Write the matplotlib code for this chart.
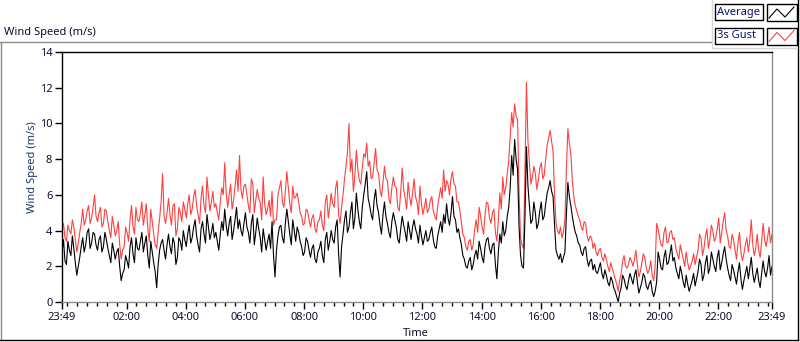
import matplotlib
matplotlib.use('Agg')
import matplotlib.pyplot as plt
from matplotlib.lines import Line2D
from matplotlib.patches import Rectangle
import numpy as np

# 3-minute samples starting 23:49 (m/s), one row = 2 hours
avg_speed = [
    2.8, 3.5, 2.3, 2.1, 3.4, 2.9, 2.6, 3.7, 3.0, 2.2, 1.5, 2.0, 2.5, 3.1, 3.6, 2.8, 3.2, 3.9, 4.1, 3.0,
    3.3, 3.9, 3.8, 3.2, 2.9, 3.5, 3.7, 2.8, 3.1, 3.9, 3.5, 3.0, 2.6, 2.2, 3.3, 2.9, 2.4, 2.8, 3.0, 2.0,
    1.2, 1.6, 1.8, 2.6, 2.3, 1.9, 3.1, 3.6, 2.7, 2.2, 3.6, 3.0, 2.9, 3.4, 3.9, 2.8, 3.3, 3.7, 2.6, 1.9,
    3.4, 2.8, 2.2, 1.7, 0.8, 2.1, 2.9, 3.3, 3.5, 2.9, 2.4, 3.2, 3.8, 3.1, 2.7, 3.6, 3.3, 2.1, 2.5, 3.6,
    3.4, 2.9, 4.0, 3.5, 3.1, 3.8, 4.3, 3.3, 3.6, 4.2, 4.6, 3.7, 3.2, 2.8, 4.1, 4.5, 3.8, 3.3, 4.9, 4.2,
    3.5, 3.9, 4.4, 3.6, 3.9, 3.4, 2.9, 3.8, 4.5, 4.0, 5.2, 4.3, 3.7, 4.4, 4.8, 3.5, 4.0, 4.6, 5.3, 4.1,
    4.6, 4.0, 3.7, 4.4, 5.0, 4.2, 3.9, 3.3, 4.4, 4.9, 3.2, 3.9, 4.7, 4.1, 3.6, 2.8, 4.1, 3.5, 2.9, 3.4,
    3.8, 3.0, 4.5, 2.6, 1.4, 2.9, 3.7, 4.2, 4.3, 3.6, 3.3, 4.4, 5.2, 4.5, 3.8, 3.2, 4.6, 4.0, 3.4, 4.2,
    3.9, 3.4, 3.1, 2.6, 2.8, 3.6, 3.4, 2.9, 2.5, 3.0, 3.2, 2.4, 2.2, 2.8, 3.0, 3.4, 2.6, 2.2, 3.5, 3.9,
    2.9, 3.4, 4.0, 3.5, 3.3, 4.2, 4.6, 2.7, 1.4, 3.1, 3.8, 4.6, 5.1, 3.9, 4.2, 5.0, 5.6, 4.1, 4.7, 6.1,
    5.2, 4.5, 4.1, 5.3, 6.0, 6.6, 7.3, 5.8, 5.4, 4.9, 4.6, 5.7, 6.3, 5.4, 5.0, 4.3, 3.8, 4.9, 5.6, 4.8,
    4.4, 3.9, 3.6, 4.5, 5.0, 4.6, 4.2, 3.5, 3.3, 4.1, 4.8, 4.3, 3.9, 3.4, 4.5, 4.0, 3.5, 4.2, 4.6, 4.1,
    3.8, 3.3, 4.3, 3.7, 3.2, 3.6, 4.0, 3.4, 3.5, 3.9, 4.2, 3.5, 3.1, 3.0, 3.7, 4.1, 4.5, 3.9, 4.9, 4.4,
    5.5, 4.7, 4.3, 5.0, 5.9, 4.8, 4.6, 3.9, 4.1, 3.6, 3.2, 2.6, 2.4, 2.0, 1.9, 2.3, 2.5, 1.8, 2.1, 2.6,
    2.9, 2.4, 3.4, 3.0, 2.5, 2.2, 3.1, 3.5, 3.6, 3.0, 2.7, 3.2, 3.3, 2.1, 1.3, 2.8, 3.8, 3.3, 4.5, 3.7,
    4.0, 4.8, 5.3, 6.4, 8.2, 7.1, 9.1, 8.0, 7.4, 4.2, 2.6, 2.0, 1.9, 4.8, 8.7, 6.5, 5.4, 4.4, 4.6, 5.6,
    5.0, 4.1, 4.4, 5.1, 5.6, 4.6, 4.8, 5.5, 6.1, 6.4, 6.8, 6.2, 5.9, 4.3, 2.9, 2.6, 2.4, 2.7, 2.2, 2.5,
    2.8, 4.9, 6.7, 5.9, 5.4, 4.8, 4.3, 3.9, 3.7, 3.3, 3.2, 2.8, 2.6, 3.0, 3.1, 2.4, 2.0, 2.3, 2.4, 1.8,
    2.1, 1.7, 1.6, 1.9, 2.2, 1.6, 1.3, 1.8, 1.5, 1.1, 0.9, 1.4, 1.2, 0.8, 0.6, 0.3, 0.0, 0.5, 0.8, 1.5,
    1.3, 0.9, 0.7, 1.2, 1.6, 1.3, 1.0, 1.5, 1.8, 1.1, 0.5, 0.8, 1.1, 1.6, 1.4, 0.9, 0.7, 1.0, 1.2, 0.6,
    0.3, 0.6, 1.1, 2.8, 2.4, 1.9, 1.8, 2.5, 2.9, 2.1, 2.2, 2.7, 3.2, 2.3, 2.5, 1.9, 1.6, 1.3, 2.0, 1.6,
    1.1, 0.8, 1.5, 1.0, 0.6, 0.9, 1.2, 1.6, 0.9, 1.3, 1.7, 2.4, 2.1, 1.2, 1.5, 2.2, 2.6, 1.6, 1.9, 2.8,
    2.4, 2.0, 1.7, 2.5, 2.9, 1.8, 2.2, 2.7, 3.1, 2.4, 1.9, 1.5, 1.2, 2.1, 1.8, 1.4, 1.0, 1.7, 2.2, 1.3,
    0.7, 1.2, 1.6, 2.0, 1.3, 1.9, 2.5, 1.6, 1.1, 1.5, 1.9, 1.2, 0.8, 1.6, 2.3, 1.7, 1.4, 1.9, 2.6, 1.5,
    2.0,
]
gust_speed = [
    4.1, 4.4, 3.6, 3.4, 4.3, 4.0, 3.8, 4.6, 4.2, 3.5, 2.8, 3.3, 3.9, 4.4, 5.2, 4.3, 4.6, 5.1, 5.4, 4.4,
    4.7, 5.3, 6.0, 4.8, 4.5, 5.0, 5.3, 4.2, 4.4, 5.2, 5.1, 4.5, 4.0, 3.6, 4.8, 4.3, 3.7, 4.0, 4.5, 3.2,
    2.4, 2.9, 3.1, 4.2, 3.9, 3.4, 4.6, 5.4, 4.2, 3.8, 5.3, 4.6, 4.5, 5.0, 5.6, 4.3, 4.9, 5.5, 4.1, 3.4,
    5.2, 4.5, 3.8, 3.2, 3.0, 3.9, 4.7, 5.6, 7.2, 4.8, 4.4, 5.0, 5.8, 4.9, 4.3, 5.4, 5.5, 3.7, 4.1, 5.3,
    5.0, 4.5, 5.6, 5.2, 4.7, 5.5, 6.0, 4.9, 5.2, 5.9, 6.3, 5.4, 4.9, 4.4, 5.8, 6.5, 5.4, 5.0, 7.0, 6.0,
    5.1, 5.6, 6.2, 5.3, 5.5, 5.0, 4.6, 5.6, 6.4, 6.0, 7.8, 6.1, 5.3, 6.0, 6.6, 5.2, 5.7, 6.5, 7.4, 6.2,
    8.2, 6.3, 5.8, 6.5, 6.6, 6.0, 5.4, 5.0, 6.9, 6.6, 5.0, 5.7, 6.3, 5.8, 5.6, 4.6, 7.0, 5.5, 4.9, 5.2,
    5.7, 4.8, 6.2, 4.3, 4.6, 4.6, 6.0, 6.4, 6.8, 5.6, 5.3, 6.2, 7.3, 6.4, 5.5, 5.0, 6.5, 5.8, 5.9, 6.1,
    5.6, 5.0, 4.8, 4.3, 4.4, 5.2, 5.1, 4.6, 4.2, 4.7, 4.9, 4.1, 3.9, 4.5, 4.6, 5.1, 4.3, 4.0, 5.6, 6.0,
    4.7, 5.3, 6.1, 5.5, 5.3, 6.4, 6.8, 4.9, 4.4, 5.3, 6.0, 6.9, 7.6, 8.4, 10.0, 7.3, 8.0, 6.2, 7.1, 8.5,
    7.4, 6.8, 6.6, 7.5, 8.3, 8.1, 8.9, 7.6, 7.9, 6.9, 7.0, 7.8, 8.6, 7.4, 7.2, 6.3, 5.9, 6.7, 7.6, 6.9,
    6.8, 5.8, 5.5, 6.4, 7.0, 6.5, 6.4, 5.3, 5.1, 6.2, 7.5, 6.3, 5.8, 5.2, 6.7, 5.9, 5.4, 6.1, 6.9, 5.9,
    5.6, 4.9, 6.5, 5.5, 4.9, 5.3, 5.8, 5.0, 5.2, 5.7, 5.9, 5.1, 4.8, 4.6, 5.4, 5.9, 6.4, 5.8, 7.4, 6.2,
    6.8, 6.6, 6.0, 6.9, 7.3, 6.6, 6.5, 5.6, 5.6, 5.1, 4.5, 3.8, 3.6, 3.1, 2.9, 3.4, 3.5, 2.9, 3.2, 4.1,
    4.6, 3.9, 5.3, 4.8, 4.2, 3.8, 4.9, 5.6, 5.5, 4.7, 4.4, 5.0, 5.2, 3.9, 3.4, 4.6, 6.1, 5.2, 7.0, 6.0,
    6.4, 7.2, 7.9, 9.3, 10.6, 9.8, 11.1, 10.4, 10.2, 6.1, 3.6, 3.2, 3.0, 7.4, 12.3, 9.0, 7.8, 6.6, 7.0, 7.6,
    7.2, 6.3, 6.8, 7.5, 7.8, 6.9, 7.1, 8.0, 8.8, 9.2, 9.6, 9.0, 8.4, 6.0, 4.4, 4.0, 3.8, 4.2, 3.6, 3.9,
    4.6, 7.5, 9.7, 8.9, 8.3, 6.8, 5.9, 5.4, 5.1, 4.8, 4.6, 4.2, 4.0, 4.5, 4.4, 3.7, 3.4, 3.7, 3.6, 3.0,
    3.3, 2.8, 2.6, 2.9, 3.0, 2.5, 2.3, 2.7, 2.4, 2.0, 1.7, 2.2, 1.9, 1.6, 1.3, 1.0, 0.6, 1.2, 1.6, 2.3,
    2.6, 2.0, 1.9, 2.1, 2.5, 2.3, 2.0, 2.4, 2.9, 2.1, 1.4, 1.7, 2.2, 2.7, 2.5, 1.9, 1.6, 1.8, 2.3, 1.5,
    1.2, 2.0, 4.4, 4.1, 3.6, 3.2, 3.1, 3.9, 4.2, 3.3, 3.4, 3.9, 4.0, 3.5, 3.6, 3.0, 2.7, 2.4, 3.2, 2.8,
    2.4, 2.0, 2.8, 2.2, 1.8, 2.0, 2.3, 2.7, 2.1, 2.5, 2.9, 3.8, 3.6, 2.6, 3.0, 3.7, 4.1, 3.0, 3.5, 4.3,
    4.0, 3.4, 3.6, 4.1, 4.7, 3.3, 3.9, 4.5, 5.0, 4.0, 3.7, 3.1, 3.0, 3.8, 3.5, 2.9, 2.4, 3.3, 3.9, 2.8,
    2.3, 2.7, 3.2, 3.6, 2.8, 3.5, 4.6, 3.2, 2.6, 3.0, 3.8, 2.9, 2.5, 3.4, 4.4, 3.5, 3.1, 3.6, 4.2, 3.3,
    3.8,
]
step_minutes = 3
start_time = '23:49'
time_labels = ['23:49', '02:00', '04:00', '06:00', '08:00', '10:00', '12:00',
               '14:00', '16:00', '18:00', '20:00', '22:00', '23:49']
y_ticks = [0, 2, 4, 6, 8, 10, 12, 14]


def to_hours(hhmm):
    h, m = hhmm.split(':')
    return int(h) + int(m) / 60


def hours_after_start(hhmm):
    return (to_hours(hhmm) - to_hours(start_time)) % 24


W, H = 800, 342
def fx(px):
    return px / W
def fy(py):
    return 1 - py / H


plt.rcParams['font.family'] = ['Noto Sans', 'DejaVu Sans']
text_col = '#0c1030'

fig = plt.figure(figsize=(8, 3.42), dpi=100)
ax = fig.add_axes([fx(62), fy(302), (772 - 62) / W, (302 - 52) / H])

t = np.arange(len(avg_speed)) * step_minutes / 60
ax.plot(t, gust_speed, color='#ff4040', lw=0.8)
ax.plot(t, avg_speed, color='black', lw=0.8)

ax.set_xlim(0, 24)
ax.set_ylim(0, 14)

xt = [hours_after_start(s) for s in time_labels]
xt[-1] = 24
ax.set_xticks(xt)
ax.set_xticklabels(time_labels)
first_hour = hours_after_start('00:00')
ax.set_xticks(np.arange(first_hour, 24, 1 / 3), minor=True)
ax.set_yticks(y_ticks)
ax.tick_params(axis='x', which='major', length=5, width=1, pad=2,
               labelsize=8, labelcolor=text_col)
ax.tick_params(axis='x', which='minor', length=3, width=1)
ax.tick_params(axis='y', which='major', length=5, width=1, pad=2,
               labelsize=8, labelcolor=text_col)

for s in ['top', 'left']:
    ax.spines[s].set_color('black')
for s in ['bottom', 'right']:
    ax.spines[s].set_color('#8c8c8c')
for s in ax.spines.values():
    s.set_linewidth(1)

fig.text(fx(33), fy(167), 'Wind Speed (m/s)', rotation=90, ha='center',
         va='center', fontsize=8, color='#1c3868')
fig.text(fx(403), fy(333), 'Time', ha='left', va='center', fontsize=8,
         color=text_col)
fig.text(fx(4), fy(32), 'Wind Speed (m/s)', ha='left', va='center',
         fontsize=8, color=text_col)

# outer panel frame
fig.add_artist(Line2D([fx(0), fx(712)], [fy(42), fy(42)], color='#8c8c8c', lw=1))
fig.add_artist(Line2D([fx(1), fx(1)], [fy(42), fy(340)], color='#8c8c8c', lw=1))
fig.add_artist(Line2D([fx(0), fx(798)], [fy(340), fy(340)], color='black', lw=1))
fig.add_artist(Line2D([fx(798), fx(798)], [fy(0), fy(340)], color='black', lw=1))
fig.add_artist(Line2D([fx(712), fx(712)], [fy(0), fy(48)], color='#d8d8d8', lw=1))
fig.add_artist(Line2D([fx(712), fx(797)], [fy(48), fy(48)], color='#d8d8d8', lw=1))

# legend
legend_names = ['Average', '3s Gust']
legend_colors = ['black', '#ff4040']
for i, (name, col) in enumerate(zip(legend_names, legend_colors)):
    top = 4 + i * 23.5
    fig.add_artist(Rectangle((fx(715), fy(top + 16)), 48 / W, 16 / H,
                             fill=False, ec='black', lw=1))
    fig.add_artist(Rectangle((fx(767), fy(top + 17)), 30 / W, 17 / H,
                             fill=False, ec='black', lw=1))
    fig.text(fx(717), fy(top + 8), name, ha='left', va='center',
             fontsize=8, color='#101070')
    fig.add_artist(Line2D([fx(769), fx(777), fx(785), fx(794)],
                          [fy(top + 14), fy(top + 5), fy(top + 13), fy(top + 3)],
                          color=col, lw=0.8))

fig.savefig('out.png', dpi=100)
